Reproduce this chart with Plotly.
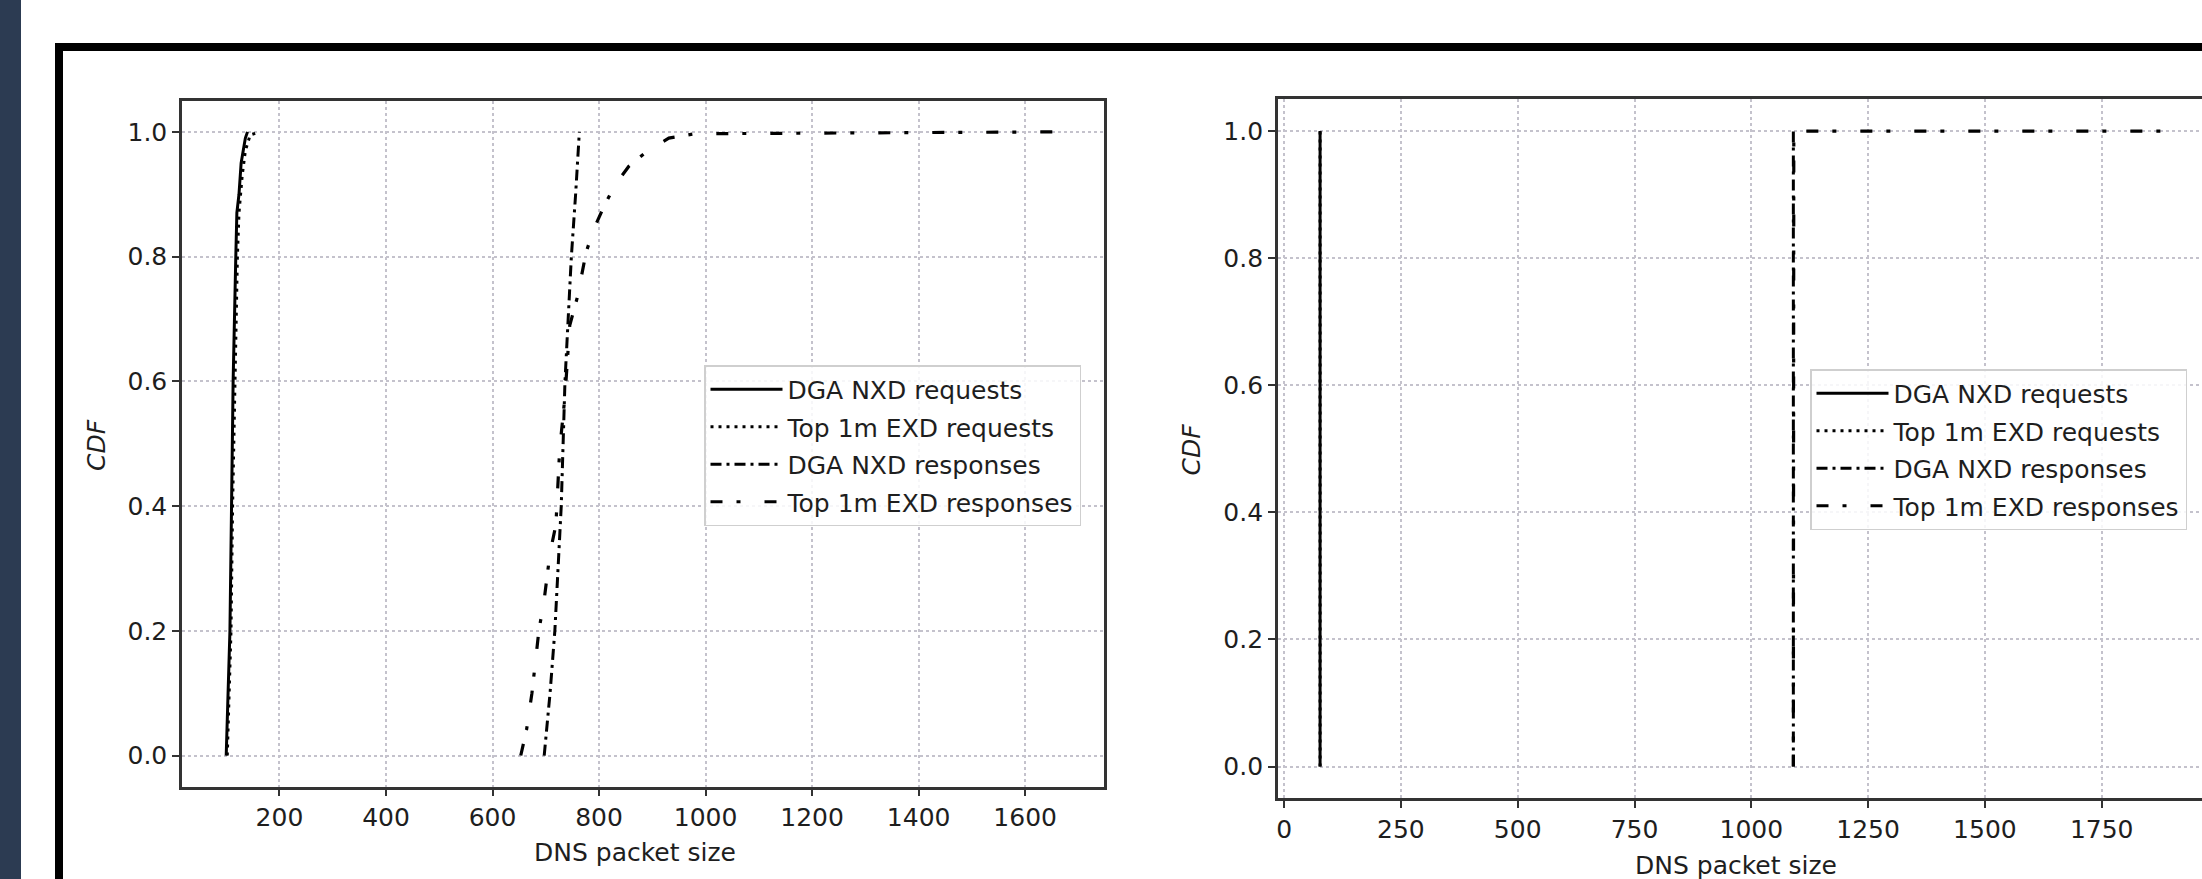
import plotly.graph_objects as go

W, H = 2202, 879

series_names = ["DGA NXD requests", "Top 1m EXD requests", "DGA NXD responses", "Top 1m EXD responses"]

# ---- Left panel data (DNS packet size vs CDF) ----
l_dga_req_x = [100, 104, 107, 110, 113, 118, 120, 124, 128, 132, 136, 140]
l_dga_req_y = [0.0, 0.1, 0.2, 0.4, 0.6, 0.8, 0.87, 0.9, 0.95, 0.97, 0.99, 1.0]
l_top_req_x = [102, 106, 109, 112, 116, 121, 124, 130, 136, 145, 163]
l_top_req_y = [0.0, 0.1, 0.2, 0.4, 0.6, 0.8, 0.87, 0.93, 0.97, 0.995, 1.0]
l_dga_resp_x = [697, 708, 717, 723, 729, 736, 742, 748, 756, 763]
l_dga_resp_y = [0.0, 0.1, 0.2, 0.3, 0.4, 0.6, 0.7, 0.8, 0.9, 1.0]
l_top_resp_x = [653, 664, 674, 687, 697, 708, 719, 726, 736, 745, 759, 768, 776, 791,
                809, 830, 856, 892, 931, 980, 1660]
l_top_resp_y = [0.0, 0.042, 0.1, 0.2, 0.25, 0.325, 0.37, 0.49, 0.576, 0.69, 0.734, 0.774,
                0.808, 0.846, 0.88, 0.915, 0.945, 0.97, 0.99, 0.997, 1.0]

# ---- Right panel data ----
r_dga_req_x = [77, 77]
r_dga_req_y = [0.0, 1.0]
r_top_req_x = [77, 77]
r_top_req_y = [0.0, 1.0]
r_dga_resp_x = [1090, 1090]
r_dga_resp_y = [0.0, 1.0]
r_top_resp_x = [1090, 1091, 1887]
r_top_resp_y = [0.0, 1.0, 1.0]

left_xticks = [200, 400, 600, 800, 1000, 1200, 1400, 1600]
right_xticks = [0, 250, 500, 750, 1000, 1250, 1500, 1750]
yticks = [0.0, 0.2, 0.4, 0.6, 0.8, 1.0]
ytick_text = ["0.0", "0.2", "0.4", "0.6", "0.8", "1.0"]

FONT = "DejaVu Sans"
FS = 25
TXT = "#1e1e1e"

dashes = ["solid", "3px,5px", "11px,5px,3px,5px", "12px,14px,4px,24px"]
widths = [3, 3, 3, 3.2]

fig = go.Figure()

left_data = [(l_dga_req_x, l_dga_req_y), (l_top_req_x, l_top_req_y),
             (l_dga_resp_x, l_dga_resp_y), (l_top_resp_x, l_top_resp_y)]
right_data = [(r_dga_req_x, r_dga_req_y), (r_top_req_x, r_top_req_y),
              (r_dga_resp_x, r_dga_resp_y), (r_top_resp_x, r_top_resp_y)]

for i, (xs, ys) in enumerate(left_data):
    fig.add_trace(go.Scatter(x=xs, y=ys, mode="lines", name=series_names[i],
                             line=dict(color="black", width=widths[i], dash=dashes[i]),
                             xaxis="x", yaxis="y", legend="legend",
                             legendgroup="L%d" % i))
for i, (xs, ys) in enumerate(right_data):
    fig.add_trace(go.Scatter(x=xs, y=ys, mode="lines", name=series_names[i],
                             line=dict(color="black", width=widths[i], dash=dashes[i]),
                             xaxis="x2", yaxis="y2", legend="legend2",
                             legendgroup="R%d" % i))

axis_common = dict(showgrid=True, gridcolor="#c4c2cc", griddash="dot", gridwidth=1.5,
                   showline=True, linecolor="#333333", linewidth=2.5,
                   ticks="outside", ticklen=7, tickwidth=2, tickcolor="#333333",
                   tickfont=dict(family=FONT, size=FS, color=TXT),
                   zeroline=False, automargin=False)

legend_common = dict(xanchor="left", yanchor="top",
                     bgcolor="rgba(255,255,255,0.85)", bordercolor="#cfcfcf", borderwidth=1.5,
                     font=dict(family=FONT, size=FS, color=TXT), tracegroupgap=2,
                     traceorder="grouped", itemwidth=72)

fig.update_layout(
    width=W, height=H,
    margin=dict(l=0, r=0, t=0, b=0),
    paper_bgcolor="white", plot_bgcolor="white",
    showlegend=True,
    xaxis=dict(domain=[182 / W, 1104 / W], range=[17, 1748], anchor="y",
               tickvals=left_xticks, mirror=True, **axis_common),
    yaxis=dict(domain=[1 - 786.7 / H, 1 - 100.7 / H], range=[-0.05, 1.05], anchor="x",
               tickvals=yticks, ticktext=ytick_text, mirror=True, **axis_common),
    xaxis2=dict(domain=[1277.8 / W, 1.0], range=[-13.5, 1964.7], anchor="y2",
                tickvals=right_xticks, mirror=True, **axis_common),
    yaxis2=dict(domain=[1 - 798.3 / H, 1 - 99.3 / H], range=[-0.05, 1.05], anchor="x2",
                tickvals=yticks, ticktext=ytick_text, mirror=False, **axis_common),
    legend=dict(x=704 / W, y=1 - 365 / H, **legend_common),
    legend2=dict(x=1810 / W, y=1 - 369 / H, **legend_common),
    font=dict(family=FONT, size=FS, color=TXT),
)

# axis titles as annotations
ann = [
    dict(text="DNS packet size", x=635 / W, y=1 - 852 / H),
    dict(text="DNS packet size", x=1736 / W, y=1 - 865 / H),
    dict(text="<i>CDF</i>", x=96 / W, y=1 - 445 / H, textangle=-90),
    dict(text="<i>CDF</i>", x=1191.5 / W, y=1 - 450 / H, textangle=-90),
]
for a in ann:
    fig.add_annotation(xref="paper", yref="paper", showarrow=False,
                       xanchor="center", yanchor="middle",
                       font=dict(family=FONT, size=FS, color=TXT), **a)

# slide decoration: navy side strip and thick black frame
fig.add_shape(type="rect", xref="paper", yref="paper", x0=0, x1=21 / W, y0=0, y1=1,
              fillcolor="#2c3b52", line=dict(width=0), layer="above")
fig.add_shape(type="rect", xref="paper", yref="paper", x0=59 / W, x1=1.02,
              y0=-0.05, y1=1 - 47 / H, fillcolor="rgba(0,0,0,0)",
              line=dict(color="black", width=8), layer="above")

fig.write_html("out.html",
               config={"displayModeBar": False},
               post_script="document.body.style.margin='0px';"
                           "document.body.style.overflow='hidden';")
